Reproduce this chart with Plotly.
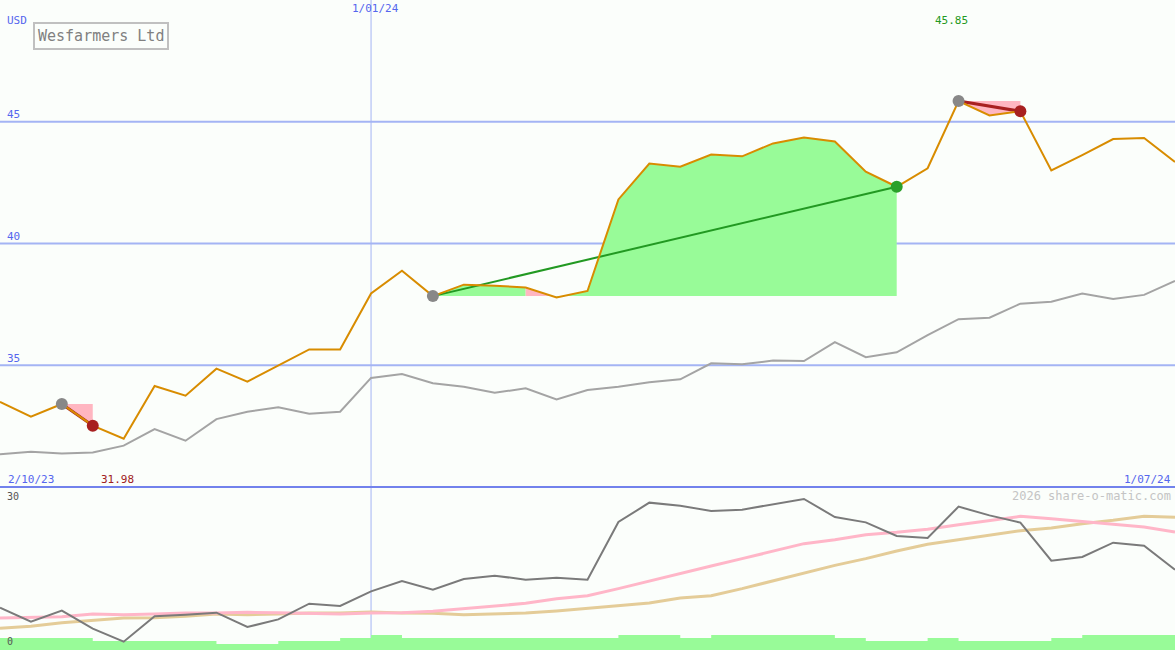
import plotly.graph_objects as go

W, H = 1175, 650

dates = ["2023-10-09", "2023-10-16", "2023-10-23", "2023-10-30", "2023-11-06", "2023-11-13",
         "2023-11-20", "2023-11-27", "2023-12-04", "2023-12-11", "2023-12-18", "2023-12-25",
         "2024-01-01", "2024-01-08", "2024-01-15", "2024-01-22", "2024-01-29", "2024-02-05",
         "2024-02-12", "2024-02-19", "2024-02-26", "2024-03-04", "2024-03-11", "2024-03-18",
         "2024-03-25", "2024-04-01", "2024-04-08", "2024-04-15", "2024-04-22", "2024-04-29",
         "2024-05-06", "2024-05-13", "2024-05-20", "2024-05-27", "2024-06-03", "2024-06-10",
         "2024-06-17", "2024-06-24", "2024-07-01"]

price = [33.50, 32.89, 33.41, 32.52, 31.98, 34.15, 33.75, 34.86, 34.33, 35.00, 35.65, 35.65,
         37.95, 38.88, 37.84, 38.31, 38.27, 38.19, 37.78, 38.05, 41.81, 43.28, 43.15, 43.65,
         43.58, 44.11, 44.35, 44.19, 42.95, 42.33, 43.09, 45.85, 45.26, 45.43, 43.00, 43.63,
         44.29, 44.33, 43.35]

benchmark = [31.34, 31.45, 31.38, 31.42, 31.70, 32.38, 31.90, 32.79, 33.09, 33.27, 33.01, 33.09,
             34.48, 34.64, 34.26, 34.12, 33.87, 34.05, 33.60, 33.98, 34.12, 34.30, 34.42, 35.08,
             35.04, 35.19, 35.17, 35.95, 35.33, 35.53, 36.24, 36.89, 36.95, 37.53, 37.61, 37.95,
             37.72, 37.89, 38.46]

osc = [8.47, 5.67, 7.87, 4.27, 1.67, 6.73, 7.07, 7.47, 4.6, 6.13, 9.27, 8.8, 11.73, 13.8, 12.07,
       14.2, 14.87, 14.07, 14.47, 14.07, 25.6, 29.47, 28.87, 27.8, 28.07, 29.2, 30.2, 26.6, 25.53,
       22.8, 22.4, 28.67, 26.93, 25.47, 17.87, 18.6, 21.47, 20.87, 16.07]

osc_fast = [6.4, 6.53, 6.67, 7.2, 7.07, 7.2, 7.4, 7.4, 7.53, 7.47, 7.4, 7.2, 7.4, 7.47, 7.73, 8.27,
            8.8, 9.33, 10.27, 10.87, 12.27, 13.73, 15.27, 16.8, 18.27, 19.8, 21.27, 22.07, 23.07,
            23.53, 24.13, 25.07, 25.93, 26.73, 26.27, 25.67, 25.07, 24.6, 23.6]

osc_slow = [4.33, 4.73, 5.47, 5.93, 6.4, 6.47, 6.73, 7.2, 7.07, 7.2, 7.4, 7.4, 7.6, 7.4, 7.33, 7.07,
            7.27, 7.4, 7.8, 8.33, 8.8, 9.4, 10.4, 10.87, 12.27, 13.87, 15.4, 16.93, 18.27, 19.8,
            21.13, 22.07, 23.07, 23.87, 24.4, 25.27, 25.93, 26.73, 26.53]

volume = [2.4, 2.4, 2.4, 1.8, 1.8, 1.8, 1.8, 1.2, 1.2, 1.8, 1.8, 2.4, 3.0, 2.4, 2.4, 2.4, 2.4, 2.4,
          2.4, 2.4, 3.0, 3.0, 2.4, 3.0, 3.0, 3.0, 3.0, 2.4, 1.8, 1.8, 2.4, 1.8, 1.8, 1.8, 2.4, 3.0,
          3.0, 3.0, 3.0]

trade_entries = [2, 14, 31]
trade_exits = [3, 29, 33]

gridlines = [35, 40, 45]
tick_labels = ["35", "40", "45"]
year_marker = "2024-01-01"

GREEN_FILL = "#98fb98"
PINK_FILL = "#ffb6c1"
ORANGE = "#d88c00"
BLUE_TXT = "#5566ee"
MONO = "DejaVu Sans Mono"

fig = go.Figure()

# Lower panel: volume-like steps
fig.add_trace(go.Scatter(x=dates, y=volume, yaxis="y2", mode="lines", line=dict(width=0, shape="hv"),
                         fill="tozeroy", fillcolor=GREEN_FILL, hoverinfo="skip"))
fig.add_trace(go.Scatter(x=dates, y=osc_slow, yaxis="y2", mode="lines",
                         line=dict(color="#e4cc98", width=3)))
fig.add_trace(go.Scatter(x=dates, y=osc_fast, yaxis="y2", mode="lines",
                         line=dict(color="#ffb6c8", width=3)))
fig.add_trace(go.Scatter(x=dates, y=osc, yaxis="y2", mode="lines",
                         line=dict(color="#7a7a7a", width=2)))

# Trade fills: one polygon per run of segments with the same colour
for e, x_ in zip(trade_entries, trade_exits):
    level = price[e]
    runs = []
    for j in range(e, x_):
        col = GREEN_FILL if price[j + 1] >= level else PINK_FILL
        if runs and runs[-1][0] == col:
            runs[-1][2] = j + 1
        else:
            runs.append([col, j, j + 1])
    for col, a, b in runs:
        xs = dates[a:b + 1] + [dates[b], dates[a]]
        ys = price[a:b + 1] + [level, level]
        fig.add_trace(go.Scatter(x=xs, y=ys, mode="lines", line=dict(width=0), fill="toself",
                                 fillcolor=col, hoverinfo="skip"))

# Benchmark
fig.add_trace(go.Scatter(x=dates, y=benchmark, mode="lines", line=dict(color="#a4a4a4", width=2)))

# Trade lines (under the price line)
for e, x_ in zip(trade_entries, trade_exits):
    win = price[x_] >= price[e]
    lc = "#229922" if win else "#a82020"
    fig.add_trace(go.Scatter(x=[dates[e], dates[x_]], y=[price[e], price[x_]], mode="lines",
                             line=dict(color=lc, width=2 if win else 3)))

# Price
fig.add_trace(go.Scatter(x=dates, y=price, mode="lines", line=dict(color=ORANGE, width=2)))

# Trade markers
for e, x_ in zip(trade_entries, trade_exits):
    win = price[x_] >= price[e]
    fig.add_trace(go.Scatter(x=[dates[e]], y=[price[e]], mode="markers",
                             marker=dict(color="#888888", size=12)))
    fig.add_trace(go.Scatter(x=[dates[x_]], y=[price[x_]], mode="markers",
                             marker=dict(color="#2aa02a" if win else "#a82020", size=12)))

split = 163 / H

shapes = []
for g in gridlines:
    shapes.append(dict(type="line", xref="paper", yref="y", x0=0, x1=1, y0=g, y1=g,
                       line=dict(color="#a4b4f4", width=2), layer="below"))
shapes.append(dict(type="line", xref="x", yref="paper", x0=year_marker, x1=year_marker, y0=0, y1=1,
                   line=dict(color="#a4b4f4", width=1), layer="below"))
shapes.append(dict(type="line", xref="paper", yref="paper", x0=0, x1=1, y0=split, y1=split,
                   line=dict(color="#7282ec", width=2), layer="above"))

def px(xp):
    return xp / W

def py(yp):
    return 1 - yp / H

ann = []
def txt(t, x, y, color, size=10, xanchor="left", **kw):
    ann.append(dict(text=t, x=px(x), y=py(y), xref="paper", yref="paper", showarrow=False,
                    xanchor=xanchor, yanchor="middle", font=dict(family=MONO, size=size, color=color), **kw))

txt("USD", 5, 21, BLUE_TXT, 11)
for g, lab in zip(gridlines, tick_labels):
    ypix = (50 - g) * 487 / 20
    txt(lab, 5, ypix - 7, BLUE_TXT, 11)
txt("1/01/24", 375, 9, BLUE_TXT, 11, xanchor="center")
txt("2/10/23", 6, 479, BLUE_TXT, 11)
txt("1/07/24", 1173, 479, BLUE_TXT, 11, xanchor="right")
imin = price.index(min(price))
imax = price.index(max(price))
txt(f"{price[imin]:.2f}", 1175 * imin / 38 - 6, 479, "#a02020", 11, xanchor="center")
txt(f"{price[imax]:.2f}", 1175 * imax / 38 - 7, 21, "#229922", 11, xanchor="center")
txt("2026 share-o-matic.com", 1173, 496, "#c4c4c4", 12, xanchor="right")
txt("30", 5, 496, "#555555", 10)
txt("0", 5, 641, "#555555", 10)
ann.append(dict(text="Wesfarmers Ltd", x=px(100.5), y=py(36.5), xref="paper", yref="paper",
                showarrow=False, xanchor="center", yanchor="middle",
                font=dict(family=MONO, size=15, color="#808080"),
                bordercolor="#c0c0c0", borderwidth=2, borderpad=3))

fig.update_layout(
    width=W, height=H, margin=dict(l=0, r=0, t=0, b=0),
    paper_bgcolor="#fbfefb", plot_bgcolor="#fbfefb",
    showlegend=False,
    xaxis=dict(type="date", range=[dates[0], dates[-1]], visible=False, anchor="y2"),
    yaxis=dict(domain=[split, 1], range=[30, 50], visible=False),
    yaxis2=dict(domain=[0, split], range=[0, 32.6], visible=False),
    shapes=shapes, annotations=ann,
)

fig.write_html("out.html", config={"displayModeBar": False},
               post_script="document.body.style.margin='0';document.body.style.overflow='hidden';")
